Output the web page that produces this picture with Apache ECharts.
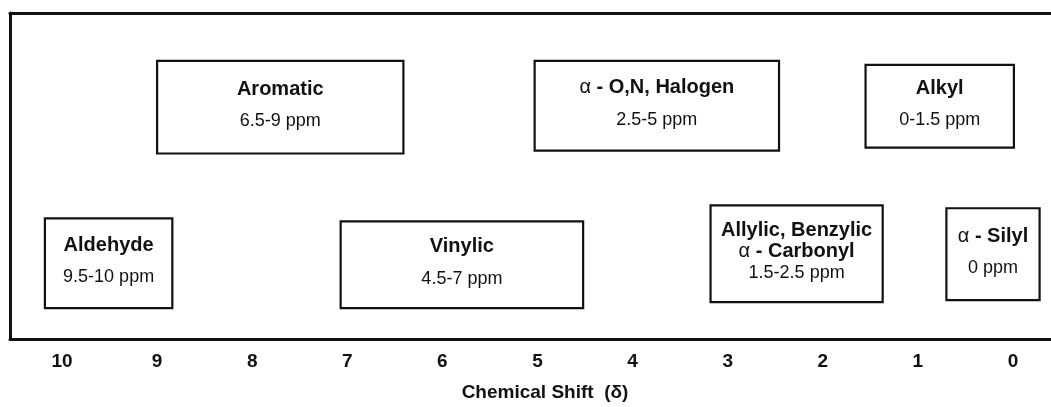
<!DOCTYPE html>
<html>
<head>
<meta charset="utf-8">
<script src="https://cdn.jsdelivr.net/npm/echarts@6/dist/echarts.min.js"></script>
<style>
  html, body { margin: 0; padding: 0; background: #fff; }
  #chart { width: 1051px; height: 407px; }
</style>
</head>
<body>
<div id="chart"></div>
<script>
// ---- data ----
const tickValues = [0, 1, 2, 3, 4, 5, 6, 7, 8, 9, 10];
const boxTitles = [
  ['Aromatic'],
  ['α - O,N, Halogen'],
  ['Alkyl'],
  ['Aldehyde'],
  ['Vinylic'],
  ['Allylic, Benzylic', 'α - Carbonyl'],
  ['α - Silyl']
];
const boxRanges = ['6.5-9 ppm', '2.5-5 ppm', '0-1.5 ppm', '9.5-10 ppm', '4.5-7 ppm', '1.5-2.5 ppm', '0 ppm'];
// box extents on the chemical-shift axis (ppm)
const boxLeft  = [9.00, 5.03, 1.55, 10.18, 7.07, 3.18, 0.70];
const boxRight = [6.41, 2.46, -0.01, 8.84, 4.52, 1.37, -0.28];
// box extents on the (hidden) vertical scale, 0 = frame bottom, 10 = frame top
const boxTop    = [8.53, 8.53, 8.41, 3.70, 3.61, 4.10, 4.01];
const boxBottom = [5.69, 5.78, 5.87, 0.95, 0.95, 1.13, 1.19];
const axisTitle = 'Chemical Shift  (δ)';

const FONT = '"Liberation Sans", Arial, Helvetica, sans-serif';
const FRAME = { color: '#111', width: 3 };

const boxData = boxTitles.map((t, i) => [boxLeft[i], boxRight[i], boxTop[i], boxBottom[i], i]);

function lineRich(line) {
  if (line.startsWith('α')) {
    return '{a|α}{b|' + line.slice(1) + '}';
  }
  return '{b|' + line + '}';
}

const chart = echarts.init(document.getElementById('chart'), null, { renderer: 'canvas' });

chart.setOption({
  animation: false,
  backgroundColor: '#fff',
  grid: {
    left: 10, right: 0, top: 13, bottom: 68,
    show: false
  },
  xAxis: [{
    type: 'value',
    position: 'bottom',
    inverse: true,
    min: -0.40,
    max: 10.547,
    axisLine: { show: true, onZero: false, lineStyle: FRAME },
    axisTick: { show: false },
    splitLine: { show: false },
    axisLabel: {
      customValues: tickValues,
      margin: 13,
      color: '#111',
      fontFamily: FONT,
      fontWeight: 'bold',
      fontSize: 19
    },
    name: axisTitle,
    nameLocation: 'middle',
    nameGap: 44,
    nameTextStyle: {
      color: '#111',
      fontFamily: FONT,
      fontWeight: 'bold',
      fontSize: 19,
      padding: [0, 0, 0, 29]
    }
  }, {
    type: 'value',
    position: 'top',
    inverse: true,
    min: -0.40,
    max: 10.547,
    axisLine: { show: true, onZero: false, lineStyle: FRAME },
    axisTick: { show: false },
    axisLabel: { show: false },
    splitLine: { show: false }
  }],
  yAxis: {
    type: 'value',
    min: 0,
    max: 10,
    axisLine: { show: true, onZero: false, lineStyle: FRAME },
    axisTick: { show: false },
    axisLabel: { show: false },
    splitLine: { show: false }
  },
  series: [{
    type: 'custom',
    data: boxData,
    renderItem: function (params, api) {
      const i = api.value(4);
      const p1 = api.coord([api.value(0), api.value(2)]);
      const p2 = api.coord([api.value(1), api.value(3)]);
      const x = Math.min(p1[0], p2[0]);
      const y = Math.min(p1[1], p2[1]);
      const w = Math.abs(p2[0] - p1[0]);
      const h = Math.abs(p2[1] - p1[1]);
      const lines = boxTitles[i].map(lineRich);
      lines.push('{r|' + boxRanges[i] + '}');
      const lh = lines.length === 2 ? 32 : 21;
      const rich = {
        a: { fontFamily: FONT, fontSize: 20, fontWeight: 'normal', fill: '#111', lineHeight: lh },
        b: { fontFamily: FONT, fontSize: 20, fontWeight: 'bold', fill: '#111', lineHeight: lh },
        r: { fontFamily: FONT, fontSize: 18, fontWeight: 'normal', fill: '#111', lineHeight: lh }
      };
      return {
        type: 'group',
        children: [
          {
            type: 'rect',
            shape: { x: x, y: y, width: w, height: h },
            style: { fill: '#fff', stroke: '#111', lineWidth: 2.2 }
          },
          {
            type: 'text',
            x: x + w / 2,
            y: y + h / 2 - 2,
            style: {
              text: lines.join('\n'),
              rich: rich,
              align: 'center',
              verticalAlign: 'middle',
              fill: '#111'
            }
          }
        ]
      };
    }
  }]
});
</script>
</body>
</html>
